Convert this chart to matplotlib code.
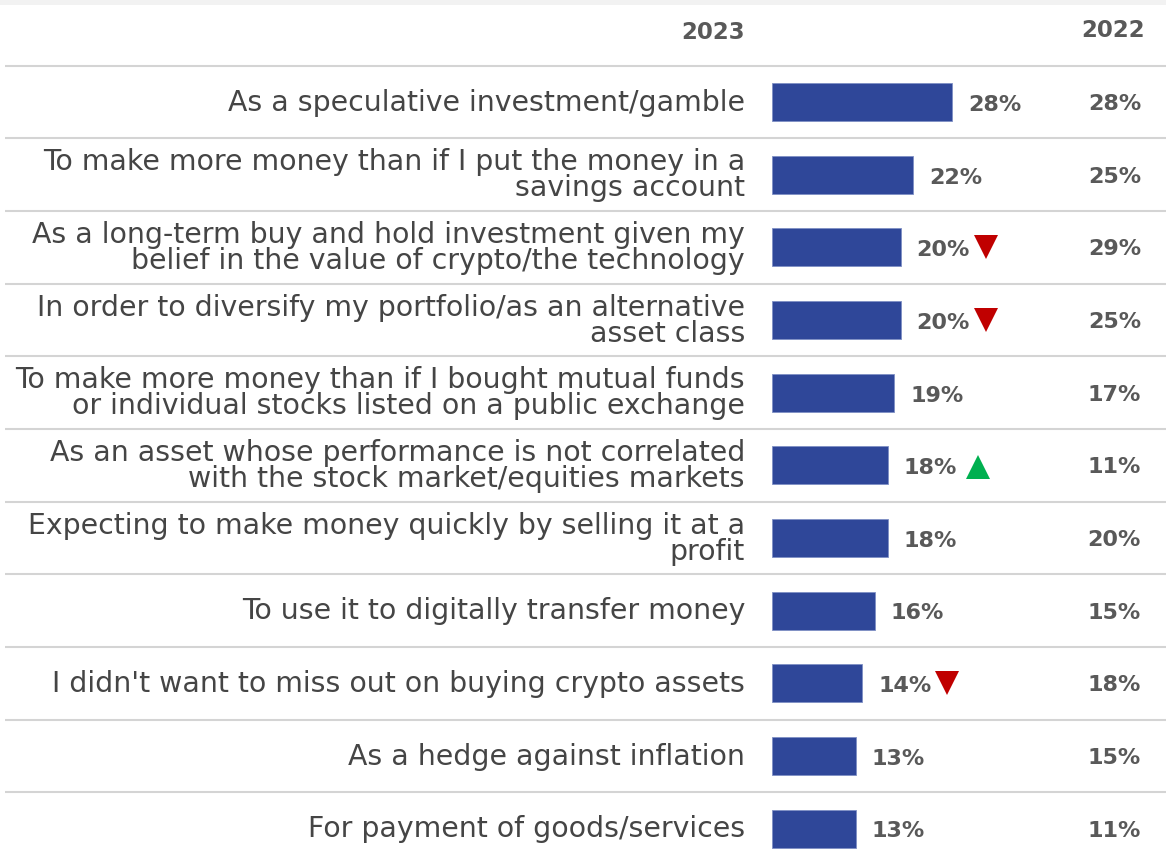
import matplotlib
matplotlib.use('Agg')
import matplotlib.pyplot as plt

# data
reasons = [
    'As a speculative investment/gamble',
    'To make more money than if I put the money in a\nsavings account',
    'As a long-term buy and hold investment given my\nbelief in the value of crypto/the technology',
    'In order to diversify my portfolio/as an alternative\nasset class',
    'To make more money than if I bought mutual funds\nor individual stocks listed on a public exchange',
    'As an asset whose performance is not correlated\nwith the stock market/equities markets',
    'Expecting to make money quickly by selling it at a\nprofit',
    'To use it to digitally transfer money',
    "I didn't want to miss out on buying crypto assets",
    'As a hedge against inflation',
    'For payment of goods/services',
]
pct_2023 = [28, 22, 20, 20, 19, 18, 18, 16, 14, 13, 13]
pct_2022 = [28, 25, 29, 25, 17, 11, 20, 15, 18, 15, 11]
# change flags: -1 = significant drop, 1 = significant rise, 0 = none
change = [0, 0, -1, -1, 0, 1, 0, 0, -1, 0, 0]

BAR = '#2f4799'
GREY = '#595959'
LABEL = '#454545'
LINE = '#d4d4d4'

W, H = 1166, 859
px_per_pct = 6.43
x0_px = 772
row_h = 72.65
row0_px = 102

fig = plt.figure(figsize=(W / 100, H / 100), dpi=100)
ax = fig.add_axes([0, 0, 1, 1])
ax.set_xlim(-x0_px / px_per_pct, (W - x0_px) / px_per_pct)
ax.set_ylim((H - row0_px) / row_h, -row0_px / row_h)
ax.axis('off')

n = len(reasons)
rows = list(range(n))

# top grey band
ax.axhspan(-row0_px / row_h, (5 - row0_px) / row_h, color='#f2f2f2', lw=0)

# separators
for i in rows:
    ax.plot([(5 - x0_px) / px_per_pct, (W - x0_px) / px_per_pct], [i - 0.5, i - 0.5],
            color=LINE, lw=1.5, solid_capstyle='butt')

ax.barh(rows, pct_2023, height=38 / row_h, left=0, color=BAR, edgecolor='#7f8fc4', lw=0.6)

label_x = -27 / px_per_pct
head_right = (1145 - x0_px) / px_per_pct
right_x = (1141 - x0_px) / px_per_pct

# headers
ax.text(label_x, (32 - row0_px) / row_h, '2023', ha='right', va='center',
        fontsize=16.5, fontweight='bold', color=GREY)
ax.text(head_right, (30 - row0_px) / row_h, '2022', ha='right', va='center',
        fontsize=16.5, fontweight='bold', color=GREY)

for i, (r, v, p, c) in enumerate(zip(reasons, pct_2023, pct_2022, change)):
    ax.text(label_x, i + 0.01, r, ha='right', va='center', fontsize=20.4,
            color=LABEL, linespacing=0.9)
    ax.text(v + 16 / px_per_pct, i + 0.04, f'{v}%', ha='left', va='center',
            fontsize=16, fontweight='bold', color=GREY)
    ax.text(right_x, i + 0.03, f'{p}%', ha='right', va='center',
            fontsize=16, fontweight='bold', color=GREY)
    if c < 0:
        ax.plot(v + 85 / px_per_pct, i + 0.0, marker='v', color='#c00000',
                markersize=17, markeredgewidth=0)
    elif c > 0:
        ax.plot(v + 90 / px_per_pct, i + 0.02, marker='^', color='#00b050',
                markersize=17, markeredgewidth=0)

fig.savefig('out.png', dpi=100)
